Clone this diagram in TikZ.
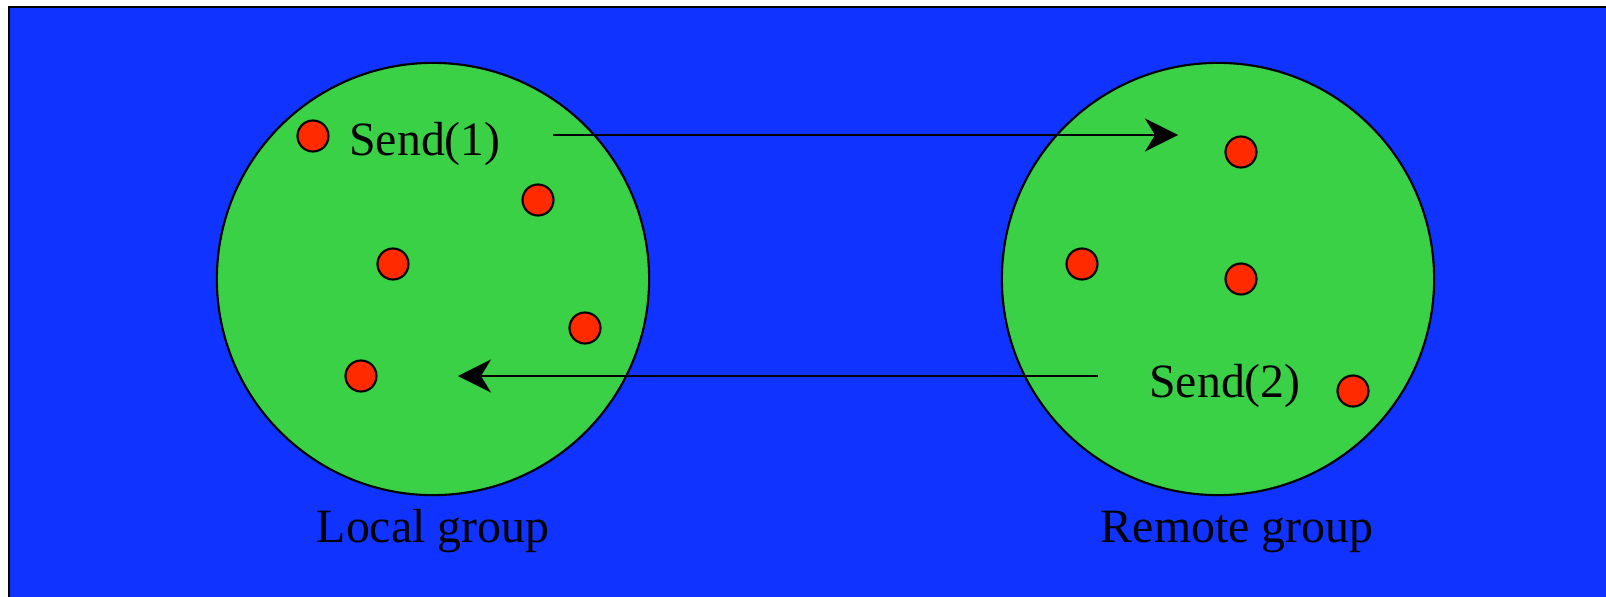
\documentclass[tikz,border=0pt]{standalone}
\usepackage{fontspec}
\setmainfont{Liberation Serif}
\usepackage{xcolor}
\usetikzlibrary{arrows.meta, positioning}
\definecolor{fond}{HTML}{1133FF}
\definecolor{groupe}{HTML}{3AD146}
\definecolor{proc}{HTML}{FF2A00}
\tikzset{
  groupe/.style={circle, draw=black, fill=groupe, line width=0.6pt,
    minimum size=4.32cm, inner sep=0},
  proc/.style={circle, draw=black, fill=proc, line width=0.6pt,
    minimum size=0.31cm, inner sep=0},
  texte/.style={font=\fontsize{13.6pt}{16pt}\selectfont, text=black, inner sep=0},
  fleche/.style={-{Stealth[length=0.33cm, width=0.33cm, inset=0.1cm]}, line width=0.6pt}
}

\begin{document}
\begin{tikzpicture}[x=0.01cm, y=-0.01cm]
    \useasboundingbox (0,0) rectangle (1606,597);
    \clip (0,0) rectangle (1606,597);
    \fill[white] (0,0) rectangle (1606,597);
    \draw[fill=fond, line width=0.6pt] (9,7) rectangle (1615,610);

    \node[groupe] (local) at (433,279) {};
    \node[groupe] (remote) at (1218,279) {};

    % processus du groupe local
    \node[proc] (l1) at (313,136) {};
    \node[proc] (l2) at (538,200) {};
    \node[proc] (l3) at (393,264) {};
    \node[proc] (l4) at (585,328) {};
    \node[proc] (l5) at (361,376) {};
    % processus du groupe distant
    \node[proc] (r1) at (1241,152) {};
    \node[proc] (r2) at (1082,264) {};
    \node[proc] (r3) at (1241,279) {};
    \node[proc] (r4) at (1353,391) {};

    \node[texte, anchor=base] (send1) at (425,155) {Send(1)};
    \node[texte, anchor=base] (send2) at (1225,397) {Send(2)};
    \node[texte, anchor=base] (nomlocal) at (433,542) {Local group};
    \node[texte, anchor=base] (nomremote) at (1237,542) {Remote group};

    \coordinate (d1) at (553,135);
    \coordinate (a1) at (1178,135);
    \coordinate (d2) at (1098,376);
    \coordinate (a2) at (458,376);
    \draw[fleche] (d1) -- (a1);
    \draw[fleche] (d2) -- (a2);
  \end{tikzpicture}
\end{document}
